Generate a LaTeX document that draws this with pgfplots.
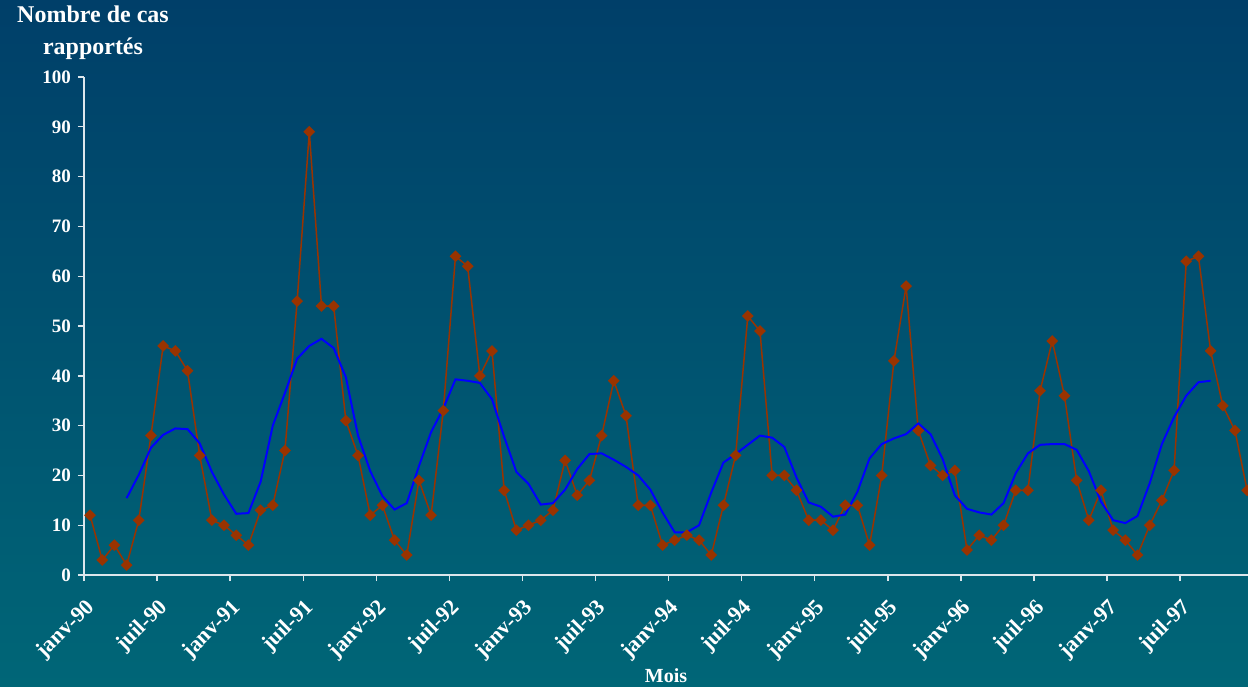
\documentclass[border=0pt]{standalone}
\usepackage{fontspec}
\setmainfont{Liberation Serif}
\usepackage{xcolor}
\usepackage{pgfplots}
\pgfplotsset{compat=1.18}
\usetikzlibrary{backgrounds}
\definecolor{bgtop}{HTML}{003F69}
\definecolor{bgbot}{HTML}{006677}
\definecolor{cas}{HTML}{993300}
\definecolor{moy}{HTML}{0000FF}
\definecolor{axe}{RGB}{220,230,236}

\begin{document}
\begin{tikzpicture}
\begin{axis}[
    name=ax,
    scale only axis,
    width=582pt, height=249pt,
    xmin=0, xmax=95.57,
    ymin=0, ymax=100,
    axis x line=bottom, axis y line=left,
    axis line style={-, axe, line width=0.9pt},
    tick style={axe, line width=0.7pt},
    tick align=outside,
    major tick length=3pt,
    xtick={0,6,...,90},
    xticklabels={janv-90,juil-90,janv-91,juil-91,janv-92,juil-92,janv-93,juil-93,
                 janv-94,juil-94,janv-95,juil-95,janv-96,juil-96,janv-97,juil-97},
    ytick={0,10,...,100},
    /pgf/number format/assume math mode=true,
    every tick label/.append style={white, font=\bfseries\fontsize{9.5}{11}\selectfont},
    xticklabel style={rotate=45, anchor=north east, inner sep=0pt,
        font=\bfseries\fontsize{11}{13}\selectfont},
    xticklabel shift=8pt,
    xlabel={Mois},
    ylabel={Nombre de cas\\rapportés},
    every axis x label/.style={at={(rel axis cs:0.5,0)}, anchor=center, yshift=-50.5pt,
        white, font=\bfseries\fontsize{10}{12}\selectfont},
    every axis y label/.style={at={(rel axis cs:0,1)}, anchor=center, xshift=4.5pt, yshift=22pt,
        align=center, white, font=\bfseries\fontsize{12}{16}\selectfont},
]
% nombre de cas mensuels (janv-90 a dec-97), point au milieu du mois
\addplot[color=cas, line width=0.75pt, mark=square*, mark size=1.7pt,
    mark options={rotate=45, fill=cas, draw=cas}] coordinates {
(0.5,12) (1.5,3) (2.5,6) (3.5,2) (4.5,11) (5.5,28) (6.5,46) (7.5,45) (8.5,41) (9.5,24) (10.5,11) (11.5,10)
(12.5,8) (13.5,6) (14.5,13) (15.5,14) (16.5,25) (17.5,55) (18.5,89) (19.5,54) (20.5,54) (21.5,31) (22.5,24) (23.5,12)
(24.5,14) (25.5,7) (26.5,4) (27.5,19) (28.5,12) (29.5,33) (30.5,64) (31.5,62) (32.5,40) (33.5,45) (34.5,17) (35.5,9)
(36.5,10) (37.5,11) (38.5,13) (39.5,23) (40.5,16) (41.5,19) (42.5,28) (43.5,39) (44.5,32) (45.5,14) (46.5,14) (47.5,6)
(48.5,7) (49.5,8) (50.5,7) (51.5,4) (52.5,14) (53.5,24) (54.5,52) (55.5,49) (56.5,20) (57.5,20) (58.5,17) (59.5,11)
(60.5,11) (61.5,9) (62.5,14) (63.5,14) (64.5,6) (65.5,20) (66.5,43) (67.5,58) (68.5,29) (69.5,22) (70.5,20) (71.5,21)
(72.5,5) (73.5,8) (74.5,7) (75.5,10) (76.5,17) (77.5,17) (78.5,37) (79.5,47) (80.5,36) (81.5,19) (82.5,11) (83.5,17)
(84.5,9) (85.5,7) (86.5,4) (87.5,10) (88.5,15) (89.5,21) (90.5,63) (91.5,64) (92.5,45) (93.5,34) (94.5,29) (95.5,17)
};
% moyenne mobile
\addplot[color=moy, line width=1pt, mark=none] coordinates {
(3.5,15.43) (4.5,20.14) (5.5,25.57) (6.5,28.14) (7.5,29.43) (8.5,29.29) (9.5,26.43) (10.5,20.71) (11.5,16.14)
(12.5,12.29) (13.5,12.43) (14.5,18.71) (15.5,30.00) (16.5,36.57) (17.5,43.43) (18.5,46.00) (19.5,47.43)
(20.5,45.57) (21.5,39.71) (22.5,28.00) (23.5,20.86) (24.5,15.86) (25.5,13.14) (26.5,14.43) (27.5,21.86)
(28.5,28.71) (29.5,33.43) (30.5,39.29) (31.5,39.00) (32.5,38.57) (33.5,35.29) (34.5,27.71) (35.5,20.71)
(36.5,18.29) (37.5,14.14) (38.5,14.43) (39.5,17.14) (40.5,21.29) (41.5,24.29) (42.5,24.43) (43.5,23.14)
(44.5,21.71) (45.5,20.00) (46.5,17.14) (47.5,12.57) (48.5,8.57) (49.5,8.57) (50.5,10.00) (51.5,16.57)
(52.5,22.57) (53.5,24.29) (54.5,26.14) (55.5,28.00) (56.5,27.57) (57.5,25.71) (58.5,19.57) (59.5,14.57)
(60.5,13.71) (61.5,11.71) (62.5,12.14) (63.5,16.71) (64.5,23.43) (65.5,26.29) (66.5,27.43) (67.5,28.29)
(68.5,30.43) (69.5,28.29) (70.5,23.29) (71.5,16.00) (72.5,13.29) (73.5,12.57) (74.5,12.14) (75.5,14.43)
(76.5,20.43) (77.5,24.43) (78.5,26.14) (79.5,26.29) (80.5,26.29) (81.5,25.14) (82.5,20.86) (83.5,14.71)
(84.5,11.00) (85.5,10.43) (86.5,11.86) (87.5,18.43) (88.5,26.29) (89.5,31.71) (90.5,36.00) (91.5,38.71)
(92.5,39.00)
};
\end{axis}
\pgfresetboundingbox
\begin{pgfonlayer}{background}
\shade[top color=bgtop, bottom color=bgbot] (-42pt,-55.5pt) rectangle (582pt,287.5pt);
\end{pgfonlayer}
\end{tikzpicture}
\end{document}
